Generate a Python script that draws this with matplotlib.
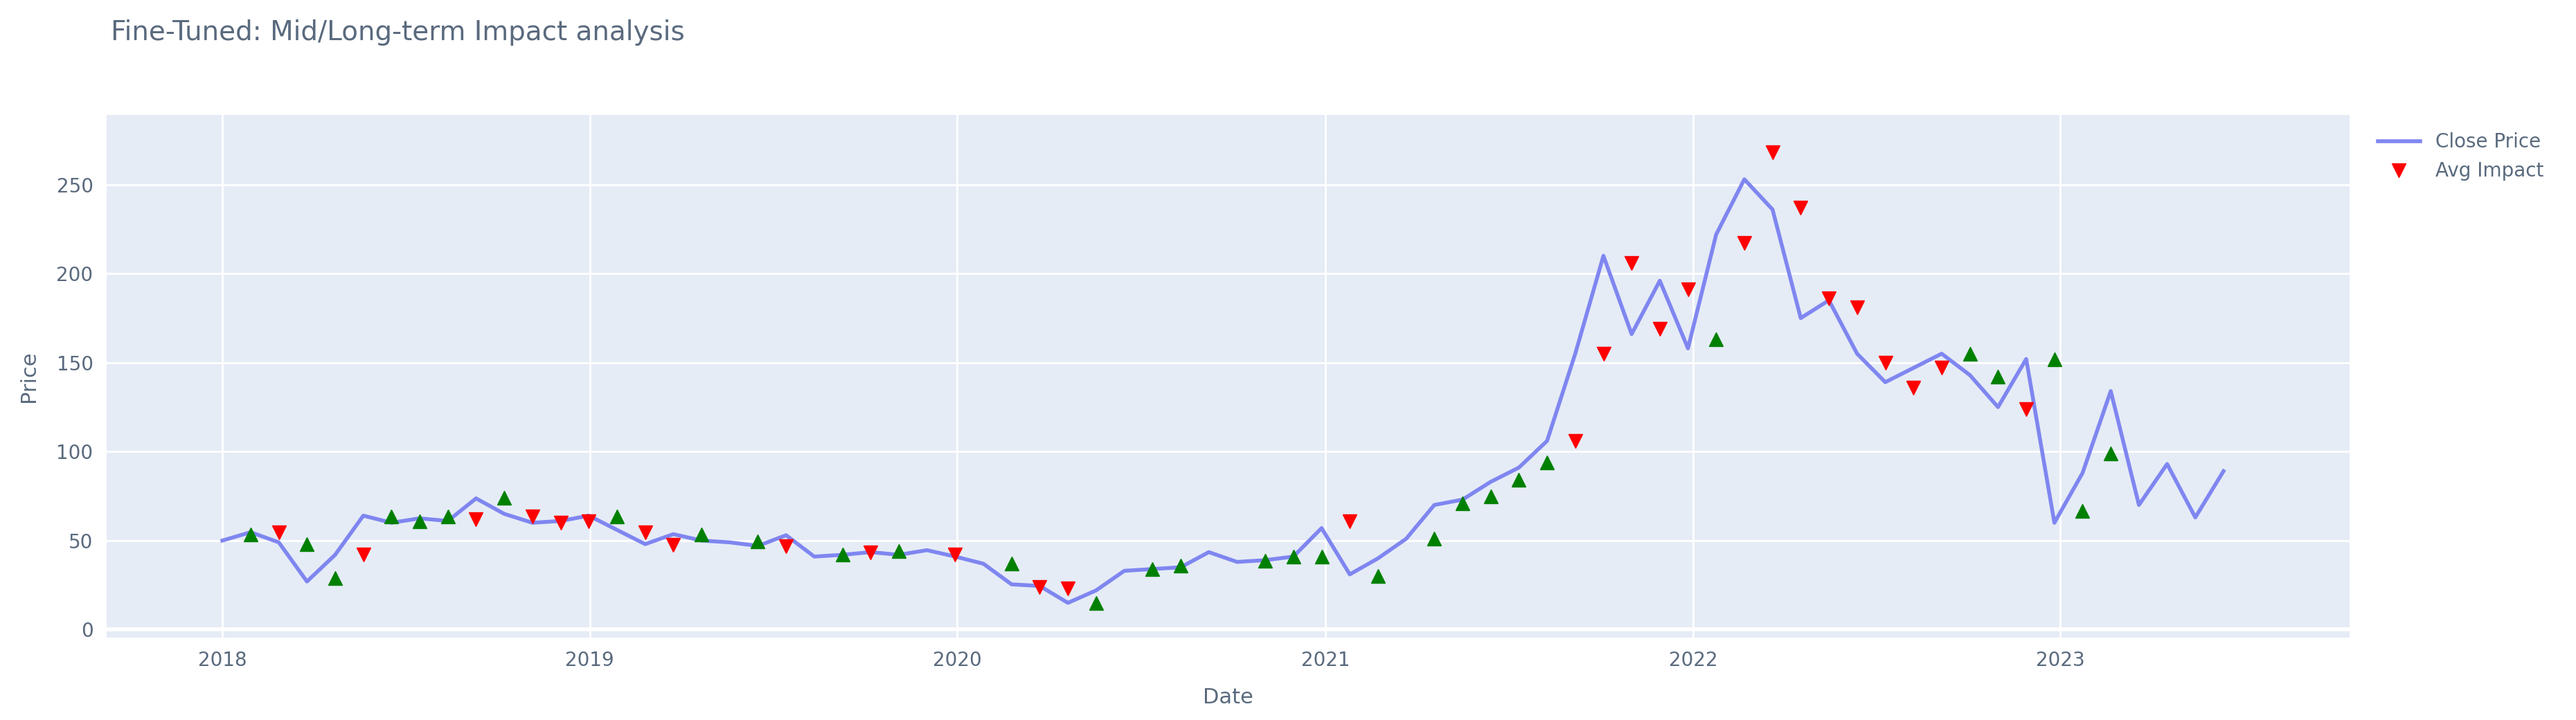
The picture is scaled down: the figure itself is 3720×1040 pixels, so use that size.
import numpy as np
import pandas as pd
import matplotlib
matplotlib.use("Agg")
import matplotlib.pyplot as plt
import matplotlib.dates as mdates

nan = np.nan

# Close price, one point every 4 weeks from Jan 2018.
close_price = [
    50, 54.7, 49, 27, 42, 64, 60, 62.5, 61, 73.7,
    65, 60, 61, 64, 56, 48, 53.6, 50, 49, 47,
    53, 41, 42, 43.5, 42, 44.6, 41, 37, 25.4, 24.5,
    15, 22, 33, 34, 35, 43.5, 38, 39, 41, 57,
    31, 40, 51, 70, 73, 83, 91, 106, 155, 210,
    166, 196, 158, 222, 253, 236, 175, 185, 155, 139,
    147, 155, 143, 125, 152, 60, 88, 134, 70, 93,
    63, 89,
]

# Avg impact markers: (index, value)
impact_up = {
    1: 53.6, 3: 48, 4: 29, 6: 63.6, 7: 61, 8: 63.6, 10: 74, 14: 63.6, 17: 53.6,
    19: 49.5, 22: 42, 24: 44, 28: 37, 31: 15, 33: 34, 34: 36, 37: 38.6, 38: 41,
    39: 41, 41: 30, 43: 51, 44: 71, 45: 75, 46: 84, 47: 94, 53: 163, 62: 155,
    63: 142, 65: 152, 66: 66.5, 67: 99,
}
impact_down = {
    2: 54.7, 5: 42, 9: 62, 11: 63.6, 12: 60, 13: 61, 15: 54.7, 16: 47.5, 20: 47,
    23: 43.5, 26: 42, 29: 24, 30: 23, 40: 61, 48: 106, 49: 155, 50: 206, 51: 169,
    52: 191, 54: 217, 55: 268, 56: 237, 57: 186, 58: 181, 59: 150, 60: 136,
    61: 147, 64: 124,
}

dates = pd.date_range("2018-01-01", periods=len(close_price), freq="28D")
up = [impact_up.get(i, nan) for i in range(len(dates))]
down = [impact_down.get(i, nan) for i in range(len(dates))]

text_col = "#5a6a7e"
fig = plt.figure(figsize=(37.2, 10.4), dpi=100)
ax = fig.add_axes([0.0414, 0.1145, 0.912 - 0.0414, 0.840 - 0.1145])
ax.set_facecolor("#E5ECF6")
for s in ax.spines.values():
    s.set_visible(False)
ax.grid(color="white", linewidth=2)
ax.set_axisbelow(True)
ax.axhline(0, color="white", linewidth=4, zorder=0.5)

ax.plot(dates, close_price, color="#7f86f0", linewidth=4, label="Close Price", zorder=2)
ax.plot(dates, down, linestyle="none", marker="v", color="#ff0000", markersize=15, label="Avg Impact", zorder=3)
ax.plot(dates, up, linestyle="none", marker="^", color="#008000", markersize=15, zorder=3)

ax.set_xlim(mdates.date2num(pd.Timestamp("2017-09-08")), mdates.date2num(pd.Timestamp("2023-10-15")))
ax.set_ylim(-4.5, 289)
ax.set_yticks([0, 50, 100, 150, 200, 250])
ax.xaxis.set_major_locator(mdates.YearLocator())
ax.xaxis.set_major_formatter(mdates.DateFormatter("%Y"))
ax.tick_params(length=0, labelsize=20, labelcolor=text_col, pad=14)
ax.set_xlabel("Date", fontsize=22, color=text_col, labelpad=18)
ax.set_ylabel("Price", fontsize=22, color=text_col, labelpad=18)

fig.text(0.043, 0.955, "Fine-Tuned: Mid/Long-term Impact analysis", fontsize=28, color=text_col, va="center")
ax.legend(loc="upper left", bbox_to_anchor=(1.005, 1.0), frameon=False, fontsize=20,
          labelcolor=text_col, handlelength=2.2)

fig.savefig("out.png", dpi=100)
